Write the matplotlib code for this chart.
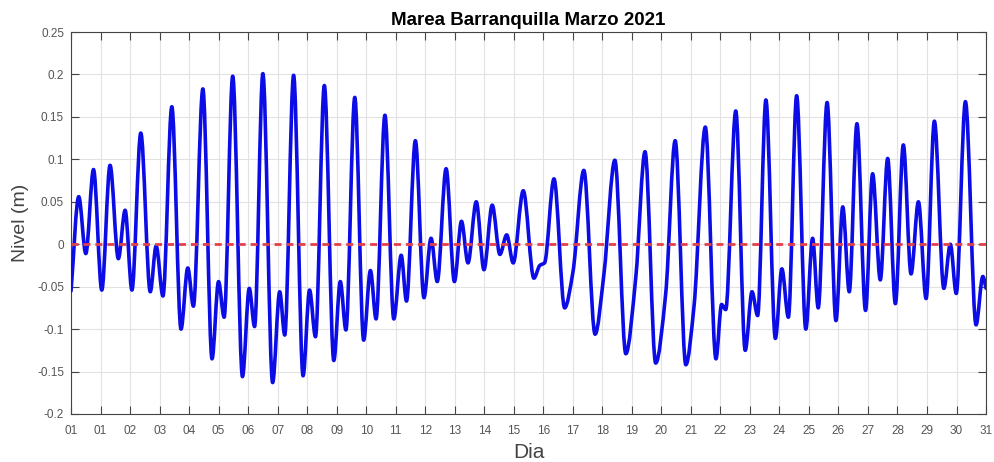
import numpy as np
import matplotlib
matplotlib.use('Agg')
import matplotlib.pyplot as plt
from matplotlib.path import Path
from matplotlib.patches import PathPatch

plt.rcParams['font.family'] = ['Liberation Sans', 'DejaVu Sans']

# extremos de la marea (dias desde 01-Mar 00:00, nivel en m)
dias = [0.00, 0.26, 0.50, 0.76, 1.04, 1.32, 1.60, 1.83, 2.06, 2.36,
        2.68, 2.88, 3.11, 3.41, 3.72, 3.95, 4.14, 4.46, 4.77, 4.99,
        5.18, 5.47, 5.80, 6.03, 6.21, 6.49, 6.82, 7.06, 7.23, 7.53,
        7.85, 8.07, 8.27, 8.57, 8.89, 9.11, 9.30, 9.60, 9.90, 10.13,
        10.32, 10.62, 10.92, 11.17, 11.35, 11.65, 11.94, 12.18, 12.39, 12.69,
        12.97, 13.21, 13.43, 13.71, 13.97, 14.25, 14.51, 14.74, 14.96, 15.30,
        15.66, 15.86, 16.02, 16.34, 16.70, 16.98, 17.35, 17.73, 18.03, 18.40,
        18.77, 19.11, 19.42, 19.78, 20.12, 20.44, 20.80, 21.08, 21.46, 21.82,
        22.01, 22.15, 22.49, 22.81, 23.04, 23.23, 23.51, 23.83, 24.05, 24.27,
        24.55, 24.86, 25.09, 25.28, 25.58, 25.88, 26.11, 26.33, 26.59, 26.88,
        27.12, 27.38, 27.63, 27.89, 28.16, 28.42, 28.67, 28.93, 29.21, 29.53,
        29.75, 29.95, 30.26, 30.62, 30.85, 30.96]
nivel = [-0.055, 0.056, -0.011, 0.088, -0.054, 0.093, -0.017, 0.040, -0.054, 0.131,
         -0.056, -0.002, -0.061, 0.162, -0.100, -0.028, -0.073, 0.183, -0.135, -0.044,
         -0.086, 0.198, -0.156, -0.052, -0.097, 0.201, -0.163, -0.056, -0.107, 0.199,
         -0.155, -0.054, -0.109, 0.187, -0.137, -0.044, -0.101, 0.173, -0.113, -0.031,
         -0.088, 0.152, -0.088, -0.013, -0.067, 0.122, -0.063, 0.007, -0.044, 0.089,
         -0.044, 0.027, -0.022, 0.050, -0.030, 0.046, -0.012, 0.011, -0.022, 0.063,
         -0.040, -0.025, -0.022, 0.077, -0.075, -0.033, 0.087, -0.106, -0.035, 0.099,
         -0.129, -0.038, 0.109, -0.140, -0.058, 0.122, -0.142, -0.072, 0.138, -0.135,
         -0.071, -0.077, 0.157, -0.125, -0.056, -0.084, 0.170, -0.111, -0.029, -0.086,
         0.175, -0.100, 0.007, -0.075, 0.167, -0.090, 0.044, -0.056, 0.142, -0.078,
         0.083, -0.042, 0.101, -0.070, 0.117, -0.035, 0.050, -0.064, 0.145, -0.052,
         0.000, -0.058, 0.168, -0.095, -0.038, -0.052]

fin_mes = 30.958
etiquetas_x = ['01', '01', '02', '03', '04', '05', '06', '07', '08', '09', '10',
               '11', '12', '13', '14', '15', '16', '17', '18', '19', '20', '21',
               '22', '23', '24', '25', '26', '27', '28', '29', '30', '31']
ticks_y = [-0.2, -0.15, -0.1, -0.05, 0, 0.05, 0.1, 0.15, 0.2, 0.25]
etiquetas_y = ['-0.2', '-0.15', '-0.1', '-0.05', '0', '0.05', '0.1', '0.15', '0.2', '0.25']


def tangentes(x, y):
    # pendientes tipo pchip: cero en los extremos
    h = np.diff(x)
    d = np.diff(y) / h
    m = np.zeros_like(y)
    for i in range(1, len(y) - 1):
        if d[i - 1] * d[i] > 0:
            w1 = 2 * h[i] + h[i - 1]
            w2 = h[i] + 2 * h[i - 1]
            m[i] = (w1 + w2) / (w1 / d[i - 1] + w2 / d[i])
    m[0] = d[0]
    m[-1] = d[-1]
    return m


x = np.array(dias)
y = np.array(nivel)
m = tangentes(x, y)
verts = [(x[0], y[0])]
codes = [Path.MOVETO]
for i in range(len(x) - 1):
    h = x[i + 1] - x[i]
    verts += [(x[i] + h / 3, y[i] + m[i] * h / 3),
              (x[i + 1] - h / 3, y[i + 1] - m[i + 1] * h / 3),
              (x[i + 1], y[i + 1])]
    codes += [Path.CURVE4] * 3

fig = plt.figure(figsize=(9.95, 4.62), dpi=100)
ax = fig.add_axes([0.0714, 0.1039, 0.9196, 0.8268])

ax.add_patch(PathPatch(Path(verts, codes), fill=False, edgecolor='#0c0ce6',
                       lw=2.6, joinstyle='round', capstyle='round', zorder=3))
ax.axhline(0, color='#e3404a', lw=2, ls=(0, (2.5, 1.8)), zorder=4)

ax.set_xlim(0, fin_mes)
ax.set_ylim(-0.2, 0.25)
ax.set_xticks(np.linspace(0, fin_mes, 32))
ax.set_xticklabels(etiquetas_x)
ax.set_yticks(ticks_y)
ax.set_yticklabels(etiquetas_y)

ax.grid(True, color='#e2e2e2', lw=0.8)
ax.set_axisbelow(True)
ax.tick_params(direction='in', top=True, right=True, length=6, width=0.8,
               color='#444444', labelsize=8.5, labelcolor='#555555')
ax.tick_params(axis='x', pad=8)
ax.tick_params(axis='y', pad=5)
for s in ax.spines.values():
    s.set_color('#444444')
    s.set_linewidth(0.8)

ax.set_title('Marea Barranquilla Marzo 2021', fontsize=13.5, fontweight='bold', pad=5)
ax.set_xlabel('Dia', fontsize=15, color='#444444', labelpad=4)
ax.set_ylabel('Nivel (m)', fontsize=14, color='#444444', labelpad=6)

fig.savefig('out.png', dpi=100)
